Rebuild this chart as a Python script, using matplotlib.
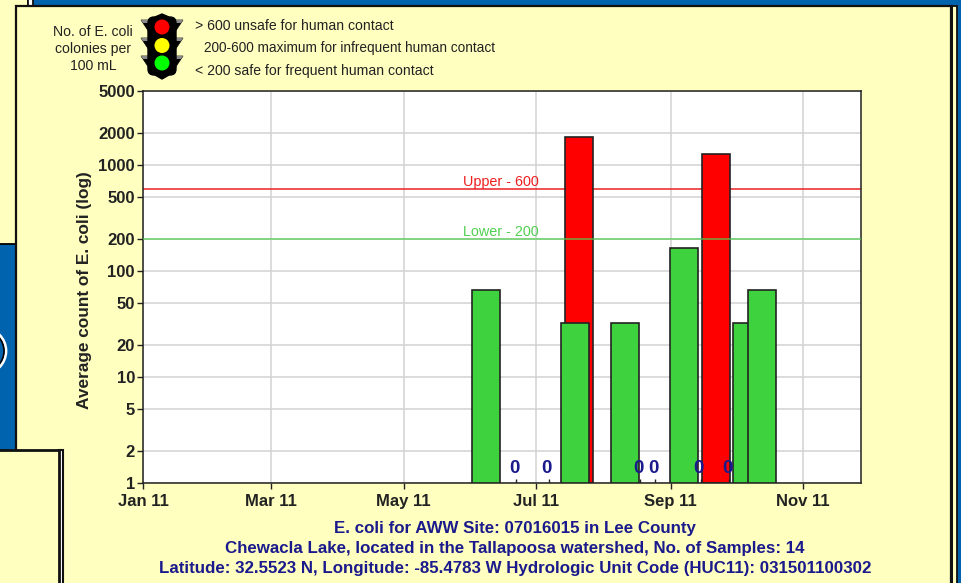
import matplotlib
matplotlib.use("Agg")
import matplotlib.pyplot as plt
import matplotlib.dates as mdates
from matplotlib.patches import Rectangle, Circle, Polygon, FancyBboxPatch
from matplotlib.ticker import FixedLocator, FixedFormatter, NullLocator
from datetime import date

plt.rcParams['font.family'] = ['Liberation Sans', 'DejaVu Sans']

# ---- data ----
red_dates = ["2011-07-21", "2011-09-22"]
red_values = [1836, 1270]
green_dates = ["2011-06-08", "2011-07-19", "2011-08-11", "2011-09-07", "2011-10-06", "2011-10-13"]
green_values = [66, 32, 32, 165, 32, 66]
zero_dates = ["2011-06-22", "2011-07-07", "2011-08-18", "2011-08-25", "2011-09-15", "2011-09-28"]
x_tick_dates = ["2011-01-01", "2011-03-01", "2011-05-01", "2011-07-01", "2011-09-01", "2011-11-01"]
x_tick_labels = ["Jan 11", "Mar 11", "May 11", "Jul 11", "Sep 11", "Nov 11"]
y_ticks = [1, 2, 5, 10, 20, 50, 100, 200, 500, 1000, 2000, 5000]
upper_limit = 600
lower_limit = 200
title_lines = [
    "E. coli for AWW Site: 07016015 in Lee County",
    "Chewacla Lake, located in the Tallapoosa watershed, No. of Samples: 14",
    "Latitude: 32.5523 N, Longitude: -85.4783 W Hydrologic Unit Code (HUC11): 031501100302",
]
legend_lines = ["> 600 unsafe for human contact",
                "200-600 maximum for infrequent human contact",
                "< 200 safe for frequent human contact"]
unit_lines = ["No. of E. coli", "colonies per", "100 mL"]

W, H = 961, 583
YEL = "#ffffc0"
BLUE = "#0063ad"
NAVY = "#1a1a8c"
DARK = "#222222"
fig = plt.figure(figsize=(W / 100, H / 100), dpi=100, facecolor=BLUE)

# backdrop in pixel coordinates
bg = fig.add_axes([0, 0, 1, 1], zorder=0)
bg.set_xlim(0, W); bg.set_ylim(H, 0); bg.axis("off")
def rect(x0, y0, x1, y1, fc, ec="none", lw=0, z=1):
    bg.add_patch(Rectangle((x0, y0), x1 - x0, y1 - y0, fc=fc, ec=ec, lw=lw, zorder=z))

# upper-left panel behind
rect(-5, -5, 28, 244, YEL, "black", 1.3, 1)
rect(28, -5, 33, 6, "white", "#111111", 1.3, 1)
# rear right edge
rect(940, 6, 957, H + 5, YEL, "#111111", 1.3, 1)
# main panel
rect(15.5, 6, 951, H + 5, YEL, "#111111", 1.6, 2)
rect(950, 5, 952.5, H + 5, "#111111", z=2.1)
rect(15, 4.5, 952.5, 6.5, "#111111", z=2.1)
# circle fragment on the left
bg.add_patch(Circle((-17, 351), 21, fc=BLUE, ec="black", lw=1.2, zorder=1.2))
bg.add_patch(Circle((-17, 351), 23, fc="none", ec="white", lw=2, zorder=1.1))
# lower-left panel
rect(-5, 450, 58.5, H + 5, YEL, "#111111", 2, 3)
rect(58.5, 450, 63, H + 5, "white", "#111111", 1.5, 2.9)

# traffic light
cx = 162
for cy in (20, 38, 56):
    bg.add_patch(Polygon([(cx - 21, cy), (cx + 21, cy), (cx + 13, cy + 12), (cx - 13, cy + 12)],
                         fc="black", ec="black", lw=0.5, zorder=4))
    bg.add_patch(Polygon([(cx - 21, cy), (cx + 21, cy), (cx + 19, cy + 3), (cx - 19, cy + 3)],
                         fc="#8a8a8a", ec="none", zorder=4.5))
bg.add_patch(FancyBboxPatch((cx - 14, 17), 28, 58, boxstyle="round,pad=0,rounding_size=6",
                            fc="black", ec="black", zorder=5))
bg.add_patch(Polygon([(cx - 7, 75), (cx + 7, 75), (cx, 79)], fc="black", ec="black", zorder=5))
bg.add_patch(Polygon([(cx - 7, 17), (cx + 7, 17), (cx, 14)], fc="black", ec="black", zorder=5))
for cy, c in ((27, "#ff0000"), (45.5, "#ffff00"), (63, "#00ff00")):
    bg.add_patch(Circle((cx, cy), 7.5, fc=c, ec="none", zorder=6))

for txt, y in zip(unit_lines, (32, 49, 66)):
    bg.text(93, y, txt, ha="center", va="center", fontsize=10.1, color=DARK, zorder=7)
bg.text(195, 26, legend_lines[0], ha="left", va="center", fontsize=10.05, color=DARK, zorder=7)
bg.text(204, 48, legend_lines[1], ha="left", va="center", fontsize=9.85, color=DARK, zorder=7)
bg.text(195, 71, legend_lines[2], ha="left", va="center", fontsize=10.05, color=DARK, zorder=7)
for txt, y in zip(title_lines, (529, 549, 568)):
    bg.text(515, y, txt, ha="center", va="center", fontsize=12.15, fontweight="bold", color=NAVY, zorder=7)

# main chart
L, R, T, B = 143, 861, 91, 483
ax = fig.add_axes([L / W, 1 - B / H, (R - L) / W, (B - T) / H], zorder=2, facecolor="white")
ax.set_yscale("log")
ax.set_ylim(1, 5000)
d = lambda s: mdates.date2num(date.fromisoformat(s))
PX_PER_DAY = 2.171
ax.set_xlim(d("2011-01-01"), d("2011-01-01") + (R - L) / PX_PER_DAY)
bar_w = 28 / PX_PER_DAY

ax.set_xticks([d(s) for s in x_tick_dates])
ax.set_xticklabels(x_tick_labels)
ax.yaxis.set_major_locator(FixedLocator(y_ticks))
ax.yaxis.set_major_formatter(FixedFormatter([str(v) for v in y_ticks]))
ax.yaxis.set_minor_locator(NullLocator())
ax.grid(True, color="#d2d2d2", lw=1.1, zorder=0)
ax.set_axisbelow(True)
ax.tick_params(axis="both", length=4.3, width=1, color=DARK, labelcolor=DARK, pad=1.5)
ax.tick_params(axis="x", pad=3.8)
for lab in ax.get_xticklabels() + ax.get_yticklabels():
    lab.set_fontweight("bold"); lab.set_fontsize(12)
for sp in ax.spines.values():
    sp.set_color(DARK); sp.set_linewidth(1.1)
ax.set_ylabel("Average count of E. coli (log)", fontsize=12.4, fontweight="bold", color=DARK)
ax.yaxis.set_label_coords(-0.071, 0.492)

ax.axhline(upper_limit, color="#ee2020", lw=1.1, zorder=1.5)
ax.bar([d(s) for s in red_dates], [v - 1 for v in red_values], bottom=1, width=bar_w,
       color="#ff0000", edgecolor="#222222", lw=1.2, zorder=2)
ax.bar([d(s) for s in green_dates], [v - 1 for v in green_values], bottom=1, width=bar_w,
       color="#3fd23f", edgecolor="#222222", lw=1.2, zorder=3)
ax.axhline(lower_limit, color="#50d050", lw=1.2, alpha=0.75, zorder=4)
label_x = d("2011-01-01") + (501 - L) / PX_PER_DAY
ax.annotate(f"Upper - {upper_limit}", (label_x, upper_limit), xytext=(0, 0), textcoords="offset points",
            color="#ee2020", ha="center", va="bottom", fontsize=10.4, zorder=5)
ax.annotate(f"Lower - {lower_limit}", (label_x, lower_limit), xytext=(0, 0), textcoords="offset points",
            color="#50d050", ha="center", va="bottom", fontsize=10.4, zorder=5)
ax.vlines([d(s) for s in zero_dates], 1, 1.08, color=DARK, lw=1, zorder=4)
for s in zero_dates:
    ax.annotate("0", (d(s), 1), xytext=(-1.5, 4), textcoords="offset points", ha="center", va="bottom",
                fontsize=13.5, fontweight="bold", color=NAVY, zorder=6)

fig.savefig("out.png", dpi=100, facecolor=BLUE)
